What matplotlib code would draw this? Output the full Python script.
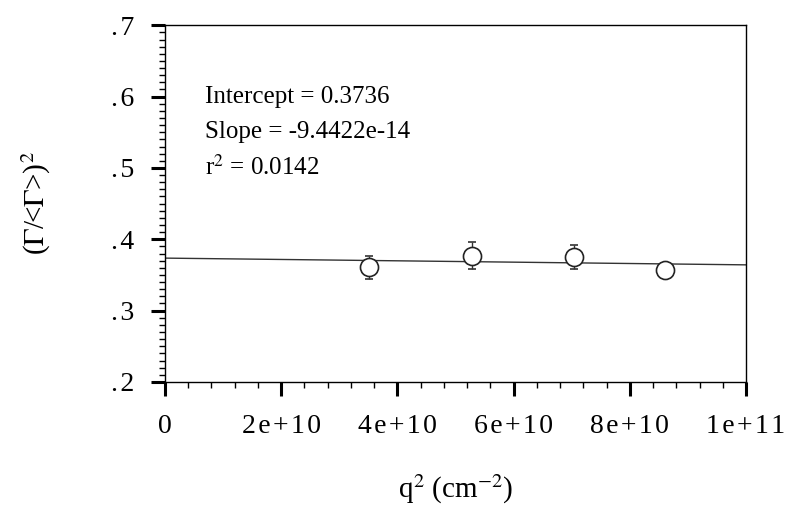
import numpy as np
import matplotlib.pyplot as plt
from matplotlib.ticker import MultipleLocator

plt.rcParams['font.family'] = ['Liberation Serif', 'DejaVu Serif']
plt.rcParams['mathtext.fontset'] = 'stix'

# dados
q2 = [3.51e10, 5.28e10, 7.04e10, 8.61e10]
ratio = [0.361, 0.377, 0.375, 0.357]
err = [0.016, 0.019, 0.017, 0.0]

intercept = 0.3736
slope = -9.4422e-14
r2 = 0.0142

xticks = [0, 2e10, 4e10, 6e10, 8e10, 1e11]
xticklabels = ["0", "2e+10", "4e+10", "6e+10", "8e+10", "1e+11"]
yticks = [0.2, 0.3, 0.4, 0.5, 0.6, 0.7]
yticklabels = [".2", ".3", ".4", ".5", ".6", ".7"]

fig = plt.figure(figsize=(7.91, 5.15), dpi=100)
ax = fig.add_axes([0.2086, 0.2583, 0.7345, 0.6927])

# reta ajustada
xfit = np.array([0, 1e11])
ax.plot(xfit, intercept + slope * xfit, color="#333333", lw=1.0)

ax.errorbar(q2, ratio, yerr=err, fmt="o", ms=13, mfc="white", mec="#222222",
            mew=1.2, ecolor="#333333", elinewidth=1.0, capsize=3, capthick=1.0)

ax.set_xlim(0, 1e11)
ax.set_ylim(0.2, 0.7)
ax.set_xticks(xticks)
# rótulos espaçados como no original
ax.set_xticklabels(["\u200a".join(s) for s in xticklabels])
ax.set_yticks(yticks)
ax.set_yticklabels(["\u200a".join(s) for s in yticklabels])
ax.xaxis.set_minor_locator(MultipleLocator(4e9))
ax.yaxis.set_minor_locator(MultipleLocator(0.01))
ax.tick_params(which="major", direction="out", length=10, width=2.2, labelsize=20)
ax.tick_params(axis="x", which="major", pad=13)
ax.tick_params(axis="y", which="major", pad=12)
ax.tick_params(which="minor", direction="out", length=4, width=1)
for s in ax.spines.values():
    s.set_linewidth(1.0)

ax.text(0.069, 0.80, "Intercept = 0.3736", fontsize=18, va="center", transform=ax.transAxes)
ax.text(0.069, 0.70, "Slope = -9.4422e-14", fontsize=18, va="center", transform=ax.transAxes)
ax.text(0.069, 0.60, "r$^2$ = 0.0142", fontsize=18, va="center", transform=ax.transAxes)

ax.set_xlabel("q$^2$ (cm$^{-2}$)", fontsize=21, labelpad=24)
ax.set_ylabel("($\\Gamma$/<$\\Gamma$>)$^2$", fontsize=21, labelpad=42)

fig.savefig("out.png", dpi=100)
